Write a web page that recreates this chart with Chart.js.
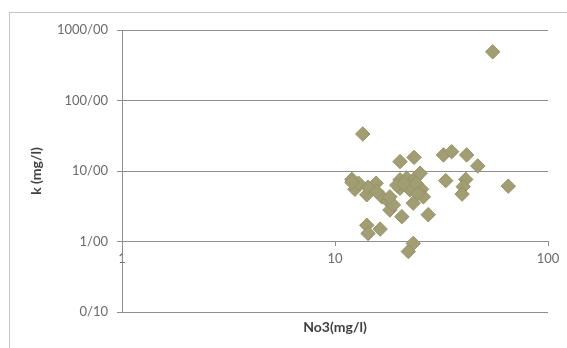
<!DOCTYPE html>
<html>
<head>
<meta charset="utf-8">
<script src="https://cdn.jsdelivr.net/npm/chart.js@4/dist/chart.umd.min.js"></script>
<style>
  html, body { margin: 0; padding: 0; background: #ffffff; }
  #wrap { position: relative; width: 567px; height: 348px; }
</style>
</head>
<body>
<div id="wrap"><canvas id="c" width="567" height="348"></canvas></div>
<script>
// NO3 concentration (mg/l) of each sample
const no3 = [55, 13.5, 20.2, 23.5, 32.3, 35.3, 41.5, 46.8, 65.1, 33.1,
             41.1, 40.0, 39.5, 12.0, 12.4, 14.1, 15.6, 14.3, 16.6, 17.8,
             18.1, 20.2, 21.7, 23.8, 25.1, 20.2, 22.5, 25.5, 26.0, 23.3,
             20.6, 27.4, 14.1, 14.3, 16.3, 23.3, 22.1, 18.8, 24.0, 19.5,
             12.9, 15.7, 18.1, 12.0, 21.0, 24.5];
// K concentration (mg/l) of the same samples
const potassium = [490, 33.5, 13.6, 15.6, 16.9, 18.8, 16.9, 11.8, 6.1, 7.3,
                   7.6, 6.0, 4.7, 7.6, 5.5, 4.6, 6.7, 5.9, 4.3, 3.7,
                   2.8, 7.5, 7.9, 7.9, 9.3, 5.7, 5.4, 5.5, 4.3, 3.5,
                   2.25, 2.4, 1.7, 1.3, 1.5, 0.94, 0.72, 3.3, 6.7, 6.3,
                   6.7, 5.1, 4.3, 6.9, 6.6, 4.8];

// axis ticks
const xTickValues = [1, 10, 100];
const xTickLabels = ['1', '10', '100'];
const yTickValues = [0.1, 1, 10, 100, 1000];
const yTickLabels = ['0/10', '1/00', '10/00', '100/00', '1000/00'];

const points = no3.map((v, i) => ({ x: v, y: potassium[i] }));

const frame = {
  id: 'frame',
  beforeDraw(chart) {
    const ctx = chart.ctx;
    ctx.save();
    ctx.fillStyle = '#ffffff';
    ctx.fillRect(0, 0, chart.width, chart.height);
    ctx.strokeStyle = '#c4c4c4';
    ctx.lineWidth = 1;
    ctx.strokeRect(9.5, 12.5, 700, 500);
    ctx.restore();
  }
};

const tickFont = { family: 'Lato, "Liberation Sans", sans-serif', size: 13 };
const titleFont = { family: 'Lato, "Liberation Sans", sans-serif', size: 14, weight: 'bold' };

new Chart(document.getElementById('c'), {
  type: 'scatter',
  data: {
    datasets: [{
      label: 'k',
      data: points,
      pointStyle: 'rectRot',
      pointRadius: 7.2,
      pointHoverRadius: 7.2,
      backgroundColor: '#a19e74',
      borderColor: '#959166',
      borderWidth: 1
    }]
  },
  options: {
    responsive: false,
    animation: false,
    events: [],
    layout: { padding: { left: 0, right: 19, top: 30, bottom: 0 } },
    plugins: { legend: { display: false }, tooltip: { enabled: false } },
    scales: {
      x: {
        type: 'logarithmic',
        min: 1, max: 100,
        position: { y: 1 },
        afterFit(s) { s.height = 0; },
        afterBuildTicks(s) { s.ticks = xTickValues.map(v => ({ value: v })); },
        ticks: {
          color: '#6a6a6a', font: tickFont, padding: 6, maxRotation: 0,
          callback: (v) => xTickLabels[xTickValues.indexOf(v)]
        },
        grid: { drawOnChartArea: false, drawTicks: true, tickLength: 4, color: '#8e8e8e' },
        border: { display: true, color: '#8e8e8e', width: 1 }
      },
      xt: {
        type: 'logarithmic',
        min: 1, max: 100,
        position: 'bottom',
        afterFit(s) { s.height = 36; },
        ticks: { display: false },
        grid: { display: false },
        border: { display: false },
        title: {
          display: true, text: 'No3(mg/l)', color: '#404040', font: titleFont,
          padding: { top: 0, bottom: 12.5 }
        }
      },
      y: {
        type: 'logarithmic',
        min: 0.1, max: 1000,
        afterFit(s) { s.width = 122; },
        afterBuildTicks(s) { s.ticks = yTickValues.map(v => ({ value: v })); },
        ticks: {
          color: '#6a6a6a', font: tickFont, padding: 9,
          callback: (v) => yTickLabels[yTickValues.indexOf(v)]
        },
        grid: { color: '#8e8e8e', lineWidth: 1, tickLength: 5 },
        border: { display: true, color: '#8e8e8e', width: 1 },
        title: {
          display: true, text: 'k (mg/l)', color: '#404040', font: titleFont,
          padding: { top: 28.5, bottom: 0 }
        }
      }
    }
  },
  plugins: [frame]
});
</script>
</body>
</html>
